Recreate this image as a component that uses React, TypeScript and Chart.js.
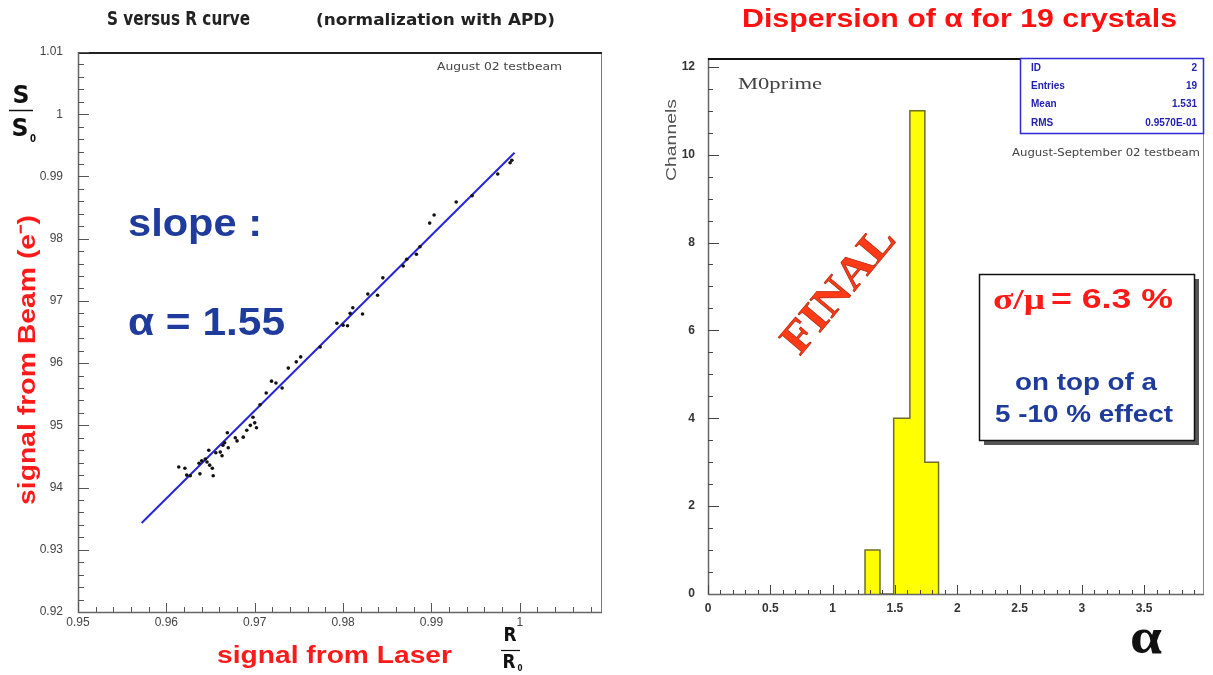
import React, { useEffect, useRef } from "react";
import { Chart, registerables } from "chart.js";

Chart.register(...registerables);

// ---------------- Left panel: S versus R curve ----------------
const laserRatio = [
  0.9614, 0.9621, 0.9623, 0.9627, 0.9637, 0.964, 0.9644, 0.9646, 0.9648, 0.9649,
  0.9652, 0.9653, 0.9638, 0.9656, 0.9661, 0.9663, 0.9664, 0.9666, 0.9669, 0.967,
  0.9678, 0.968, 0.9687, 0.9691, 0.9695, 0.9698, 0.97, 0.9702, 0.9706, 0.9713,
  0.9719, 0.9724, 0.9731, 0.9738, 0.9747, 0.9752, 0.9774, 0.9793, 0.98, 0.9805,
  0.9808, 0.9811, 0.9822, 0.9828, 0.9839, 0.9845, 0.9868, 0.9872, 0.9883, 0.9887,
  0.9898, 0.9903, 0.9928, 0.9946, 0.9975, 0.9989, 0.9991,
];
const beamRatio = [
  0.9433, 0.9431, 0.942, 0.9419, 0.9439, 0.9443, 0.9446, 0.9441, 0.946, 0.9436,
  0.9431, 0.9419, 0.9422, 0.9456, 0.9457, 0.9451, 0.9468, 0.9472, 0.9488, 0.9464,
  0.948, 0.9475, 0.9481, 0.9492, 0.95, 0.9513, 0.9504, 0.9496, 0.9533, 0.9552,
  0.9571, 0.9568, 0.956, 0.9592, 0.9602, 0.961, 0.9626, 0.9664, 0.9661, 0.966,
  0.968, 0.9689, 0.9679, 0.9711, 0.9709, 0.9737, 0.9756, 0.9767, 0.9775, 0.9787,
  0.9825, 0.9838, 0.9859, 0.9869, 0.9904, 0.9922, 0.9926,
];
const fitLaser = [0.9572, 0.9994];
const fitBeam = [0.9343, 0.9938];
const leftXRange = [0.95, 1.0093];
const leftYRange = [0.92, 1.01];
const leftStep = 0.01;
const leftMinor = 0.002;

// ---------------- Right panel: dispersion of alpha ----------------
const binEdges = [1.26, 1.38, 1.49, 1.62, 1.74, 1.85];
const binCounts = [1, 0, 4, 11, 3];
const statLabels = ["ID", "Entries", "Mean", "RMS"];
const statValues = ["2", "19", "1.531", "0.9570E-01"];
const rightXRange = [0, 3.98];
const rightYRange = [0, 12.2];

const SANS = '"Liberation Sans", Arial, sans-serif';
const COND = '"DejaVu Sans Condensed", "Liberation Sans Narrow", "Liberation Sans", sans-serif';
const SERIF = '"Liberation Serif", "DejaVu Serif", serif';

const RIGHT_OFFSET = 615;

function fitText(
  ctx: CanvasRenderingContext2D,
  text: string,
  x: number,
  y: number,
  width: number,
  font: string,
  color: string,
  align: "left" | "center" = "left"
) {
  ctx.save();
  ctx.font = font;
  ctx.fillStyle = color;
  ctx.textBaseline = "middle";
  ctx.textAlign = "left";
  const w = ctx.measureText(text).width;
  const sx = width / w;
  ctx.translate(align === "center" ? x - width / 2 : x, y);
  ctx.scale(sx, 1);
  ctx.fillText(text, 0, 0);
  ctx.restore();
}

function innerTicks(ctx: CanvasRenderingContext2D, chart: any, o: any) {
  const { left, right, top, bottom } = chart.chartArea;
  const xs = chart.scales.x;
  const ys = chart.scales.y;
  ctx.save();
  ctx.strokeStyle = o.color;
  ctx.lineWidth = 1;
  ctx.beginPath();
  const isMajor = (v: number, m: number) => Math.abs(v / m - Math.round(v / m)) < 1e-6;
  let n0 = Math.ceil(xs.min / o.xMinor - 1e-6);
  let n1 = Math.floor(xs.max / o.xMinor + 1e-6);
  for (let n = n0; n <= n1; n++) {
    const v = n * o.xMinor;
    const px = Math.round(xs.getPixelForValue(v)) + 0.5;
    if (px < left || px > right) continue;
    const len = isMajor(v, o.xMajor) ? o.xMajorLen : o.xMinorLen;
    ctx.moveTo(px, bottom);
    ctx.lineTo(px, bottom - len);
  }
  n0 = Math.ceil(ys.min / o.yMinor - 1e-6);
  n1 = Math.floor(ys.max / o.yMinor + 1e-6);
  for (let n = n0; n <= n1; n++) {
    const v = n * o.yMinor;
    const py = Math.round(ys.getPixelForValue(v)) + 0.5;
    if (py < top || py > bottom) continue;
    const len = isMajor(v, o.yMajor) ? o.yMajorLen : o.yMinorLen;
    ctx.moveTo(left, py);
    ctx.lineTo(left + len, py);
  }
  ctx.stroke();
  ctx.restore();
}

const fmt = (v: any) => String(parseFloat(Number(v).toFixed(4)));

const leftPlugin = {
  id: "leftDecor",
  afterDraw(chart: any) {
    const ctx: CanvasRenderingContext2D = chart.ctx;
    const { left, right, top, bottom } = chart.chartArea;
    ctx.save();
    // frame
    ctx.strokeStyle = "#777";
    ctx.lineWidth = 1;
    ctx.strokeRect(left + 0.5, top + 0.5, right - left - 1, bottom - top);
    ctx.strokeStyle = "#222";
    ctx.lineWidth = 2;
    ctx.beginPath();
    ctx.moveTo(left, top + 1);
    ctx.lineTo(right, top + 1);
    ctx.stroke();
    ctx.strokeStyle = "#666";
    ctx.lineWidth = 1.5;
    ctx.beginPath();
    ctx.moveTo(left + 0.5, top);
    ctx.lineTo(left + 0.5, bottom + 0.5);
    ctx.lineTo(right, bottom + 0.5);
    ctx.stroke();
    innerTicks(ctx, chart, {
      color: "#555",
      xMinor: leftMinor, xMajor: leftStep, xMajorLen: 9, xMinorLen: 5,
      yMinor: leftMinor, yMajor: leftStep, yMajorLen: 11, yMinorLen: 6,
    });

    // titles
    fitText(ctx, "S versus R curve", 107, 20, 143, `bold 20px ${COND}`, "#222");
    fitText(ctx, "(normalization with APD)", 316, 21, 239, `bold 15px ${COND}`, "#222");
    fitText(ctx, "August 02 testbeam", 437, 67, 125, `10px ${COND}`, "#444");

    // slope text
    fitText(ctx, "slope :", 128, 226, 134, `bold 38px ${SANS}`, "#1f3c9c");
    fitText(ctx, "\u03b1 = 1.55", 128, 325, 157, `bold 38px ${SANS}`, "#1f3c9c");

    // S / S0
    fitText(ctx, "S", 21, 97, 17, `bold 24px ${COND}`, "#111", "center");
    ctx.strokeStyle = "#111";
    ctx.lineWidth = 1.5;
    ctx.beginPath();
    ctx.moveTo(9, 110.5);
    ctx.lineTo(33, 110.5);
    ctx.stroke();
    fitText(ctx, "S", 20, 130, 17, `bold 24px ${COND}`, "#111", "center");
    fitText(ctx, "0", 33, 139, 6, `bold 11px ${COND}`, "#111", "center");

    // vertical red label with white backing
    ctx.fillStyle = "#fff";
    ctx.fillRect(8, 212, 42, 296);
    ctx.save();
    ctx.translate(28, 360);
    ctx.rotate(-Math.PI / 2);
    fitText(ctx, "signal from Beam (e\u207b)", 0, 0, 290, `bold 24px ${SANS}`, "#ff1a1a", "center");
    ctx.restore();

    // bottom labels
    fitText(ctx, "signal from Laser", 217, 656, 235, `bold 24px ${SANS}`, "#ff1a1a");
    fitText(ctx, "R", 510, 636, 13, `bold 19px ${COND}`, "#111", "center");
    ctx.strokeStyle = "#111";
    ctx.lineWidth = 1.2;
    ctx.beginPath();
    ctx.moveTo(501, 650.5);
    ctx.lineTo(520, 650.5);
    ctx.stroke();
    fitText(ctx, "R", 509, 663, 13, `bold 19px ${COND}`, "#111", "center");
    fitText(ctx, "0", 520, 669, 5, `bold 9px ${COND}`, "#111", "center");
    ctx.restore();
  },
};

const rightPlugin = {
  id: "rightDecor",
  afterDraw(chart: any) {
    const ctx: CanvasRenderingContext2D = chart.ctx;
    const { left, right, top, bottom } = chart.chartArea;
    ctx.save();
    // frame
    ctx.strokeStyle = "#888";
    ctx.lineWidth = 1;
    ctx.beginPath();
    ctx.moveTo(right - 0.5, top);
    ctx.lineTo(right - 0.5, bottom);
    ctx.stroke();
    ctx.strokeStyle = "#666";
    ctx.lineWidth = 1.5;
    ctx.beginPath();
    ctx.moveTo(left + 0.5, top);
    ctx.lineTo(left + 0.5, bottom + 0.5);
    ctx.lineTo(right, bottom + 0.5);
    ctx.stroke();
    ctx.strokeStyle = "#111";
    ctx.lineWidth = 2;
    ctx.beginPath();
    ctx.moveTo(left, top + 1);
    ctx.lineTo(right, top + 1);
    ctx.stroke();
    innerTicks(ctx, chart, {
      color: "#444",
      xMinor: 0.1, xMajor: 0.5, xMajorLen: 9, xMinorLen: 4,
      yMinor: 0.5, yMajor: 2, yMajorLen: 11, yMinorLen: 5,
    });

    ctx.translate(-RIGHT_OFFSET, 0);

    // title
    fitText(ctx, "Dispersion of \u03b1 for 19 crystals", 742, 20, 435, `bold 25px ${SANS}`, "#ff1010");

    // Channels
    ctx.save();
    ctx.translate(672, 140);
    ctx.rotate(-Math.PI / 2);
    fitText(ctx, "Channels", 0, 0, 82, `15px ${SANS}`, "#555", "center");
    ctx.restore();

    fitText(ctx, "M0prime", 738, 85, 84, `17px ${SERIF}`, "#444");

    // stats box
    ctx.fillStyle = "#fff";
    ctx.fillRect(1020, 58, 184, 76);
    ctx.strokeStyle = "#2a2ad0";
    ctx.lineWidth = 1.5;
    ctx.strokeRect(1020.5, 58.5, 183, 75);
    ctx.font = `bold 10px ${SANS}`;
    ctx.fillStyle = "#2222b0";
    ctx.textBaseline = "middle";
    statLabels.forEach((lab, i) => {
      const y = 68 + i * 18.3;
      ctx.textAlign = "left";
      ctx.fillText(lab, 1031, y);
      ctx.textAlign = "right";
      ctx.fillText(statValues[i], 1197, y);
    });
    fitText(ctx, "August-September 02 testbeam", 1012, 153, 188, `10px ${COND}`, "#444");

    // FINAL stamp
    ctx.save();
    ctx.translate(840, 291);
    ctx.rotate((-50 * Math.PI) / 180);
    ctx.font = `bold 44px ${SERIF}`;
    const fw = ctx.measureText("FINAL").width;
    ctx.scale(152 / fw, 1);
    ctx.textAlign = "center";
    ctx.textBaseline = "middle";
    ctx.fillStyle = "#ff3a16";
    ctx.fillText("FINAL", 0, 0);
    ctx.strokeStyle = "#b02a10";
    ctx.lineWidth = 0.7;
    ctx.strokeText("FINAL", 0, 0);
    ctx.restore();

    // sigma/mu box
    ctx.fillStyle = "#555";
    ctx.fillRect(984, 279, 215, 166);
    ctx.fillStyle = "#fff";
    ctx.fillRect(979, 274, 215, 166);
    ctx.strokeStyle = "#111";
    ctx.lineWidth = 1.5;
    ctx.strokeRect(979.5, 274.5, 215, 166);
    fitText(ctx, "\u03c3/\u03bc", 993, 301, 52, `bold 30px ${SERIF}`, "#ff1a1a");
    fitText(ctx, "= 6.3 %", 1051, 300, 122, `bold 28px ${SANS}`, "#ff1a1a");
    fitText(ctx, "on top of a", 1015, 384, 142, `bold 23px ${SANS}`, "#1f3c9c");
    fitText(ctx, "5 -10 % effect", 995, 416, 178, `bold 23px ${SANS}`, "#1f3c9c");

    // alpha axis symbol
    fitText(ctx, "\u03b1", 1130, 640, 32, `bold 50px ${SERIF}`, "#111");
    ctx.restore();
  },
};

function buildOutline() {
  const pts: { x: number; y: number }[] = [{ x: binEdges[0], y: 0 }];
  binCounts.forEach((c, i) => {
    pts.push({ x: binEdges[i], y: c });
    pts.push({ x: binEdges[i + 1], y: c });
  });
  pts.push({ x: binEdges[binEdges.length - 1], y: 0 });
  return pts;
}

export default function App() {
  const leftRef = useRef<HTMLCanvasElement>(null);
  const rightRef = useRef<HTMLCanvasElement>(null);

  useEffect(() => {
    const left = new Chart(leftRef.current as HTMLCanvasElement, {
      type: "scatter",
      data: {
        datasets: [
          {
            data: laserRatio.map((x, i) => ({ x, y: beamRatio[i] })),
            pointRadius: 1.8,
            pointBackgroundColor: "#111",
            pointBorderWidth: 0,
            showLine: false,
          },
          {
            data: fitLaser.map((x, i) => ({ x, y: fitBeam[i] })),
            showLine: true,
            borderColor: "#2626d4",
            borderWidth: 2,
            pointRadius: 0,
          },
        ],
      },
      options: {
        animation: false,
        responsive: false,
        events: [],
        layout: { padding: { left: 8, top: 52, right: 13, bottom: 0 } },
        plugins: { legend: { display: false }, tooltip: { enabled: false } },
        scales: {
          x: {
            type: "linear",
            min: leftXRange[0],
            max: leftXRange[1],
            grid: { display: false, drawTicks: false },
            border: { display: false },
            afterFit: (s: any) => { s.height = 63; },
            ticks: {
              stepSize: leftStep,
              includeBounds: false,
              padding: 3,
              maxRotation: 0,
              autoSkip: false,
              color: "#444",
              font: { family: SANS, size: 12 },
              callback: fmt,
            },
          },
          y: {
            type: "linear",
            min: leftYRange[0],
            max: leftYRange[1],
            grid: { display: false, drawTicks: false },
            border: { display: false },
            afterFit: (s: any) => { s.width = 70; },
            ticks: {
              stepSize: leftStep,
              includeBounds: false,
              padding: 15,
              autoSkip: false,
              color: "#444",
              font: { family: SANS, size: 12 },
              callback: fmt,
            },
          },
        },
      },
      plugins: [leftPlugin],
    } as any);

    const right = new Chart(rightRef.current as HTMLCanvasElement, {
      type: "scatter",
      data: {
        datasets: [
          {
            data: buildOutline(),
            showLine: true,
            fill: "origin",
            backgroundColor: "#ffff00",
            borderColor: "#6e6e2a",
            borderWidth: 1.5,
            pointRadius: 0,
            tension: 0,
          },
        ],
      },
      options: {
        animation: false,
        responsive: false,
        events: [],
        layout: { padding: { left: 13, top: 58, right: 9, bottom: 0 } },
        plugins: { legend: { display: false }, tooltip: { enabled: false } },
        scales: {
          x: {
            type: "linear",
            min: rightXRange[0],
            max: rightXRange[1],
            grid: { display: false, drawTicks: false },
            border: { display: false },
            afterFit: (s: any) => { s.height = 81; },
            ticks: {
              stepSize: 0.5,
              includeBounds: false,
              padding: 7,
              maxRotation: 0,
              autoSkip: false,
              color: "#333",
              font: { family: SANS, size: 12, weight: "bold" },
              callback: fmt,
            },
          },
          y: {
            type: "linear",
            min: rightYRange[0],
            max: rightYRange[1],
            grid: { display: false, drawTicks: false },
            border: { display: false },
            afterFit: (s: any) => { s.width = 80; },
            ticks: {
              stepSize: 2,
              includeBounds: false,
              padding: 13,
              autoSkip: false,
              color: "#333",
              font: { family: SANS, size: 12, weight: "bold" },
              callback: fmt,
            },
          },
        },
      },
      plugins: [rightPlugin],
    } as any);

    return () => {
      left.destroy();
      right.destroy();
    };
  }, []);

  return (
    <div style={{ position: "absolute", left: 0, top: 0, width: 1213, height: 675, background: "#fff", overflow: "hidden" }}>
      <canvas ref={leftRef} width={615} height={675} style={{ position: "absolute", left: 0, top: 0, display: "block" }} />
      <canvas ref={rightRef} width={598} height={675} style={{ position: "absolute", left: RIGHT_OFFSET, top: 0, display: "block" }} />
    </div>
  );
}
